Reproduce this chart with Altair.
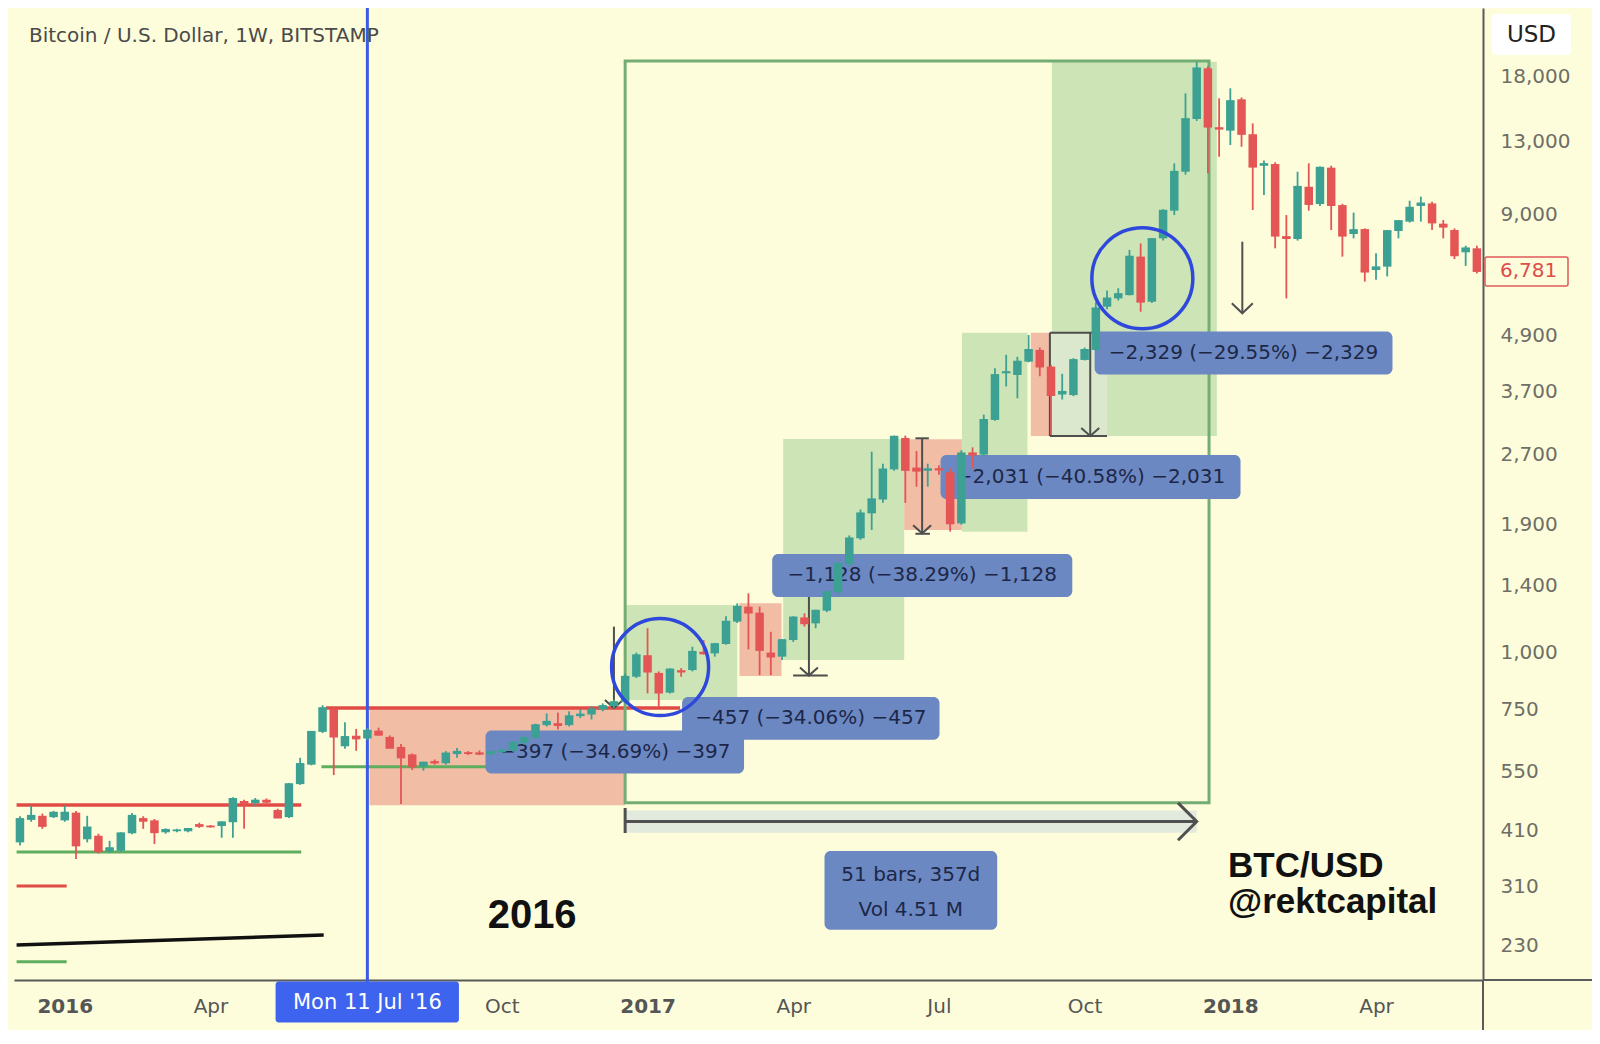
import altair as alt
import numpy as np
import pandas as pd

BG = "#FDFDDC"
GREEN = "#3CA193"
RED = "#E45555"
BLUE_BOX = "#6C88C2"
BOX_TEXT = "#1C2747"
TOOL = "#4E4E4E"

# ---------------- candle data (weekly, BITSTAMP) ----------------
week_start = pd.date_range("2015-12-07", periods=131, freq="7D")
opens = [
    386, 432, 441, 438, 431, 448, 392, 399, 369, 370,
    404, 436, 431, 406, 409, 408, 423, 419, 419, 427,
    475, 470, 478, 454, 438, 517, 570, 672, 754, 625,
    659, 650, 676, 655, 623, 600, 565, 580, 574, 601,
    605, 606, 601, 607, 612, 636, 652, 695, 702, 695,
    727, 733, 752, 765, 780, 886, 987, 903, 818, 915,
    916, 1004, 996, 1044, 1168, 1259, 1222, 1000, 980, 1065,
    1193, 1158, 1234, 1355, 1560, 1774, 2011, 2155, 2507, 2935,
    2530, 2490, 2520, 2470, 1912, 2730, 2700, 3213, 4060, 4025,
    4305, 4565, 4199, 3650, 3640, 4341, 4565, 5670, 5912, 6010,
    7290, 5813, 7990, 9180, 11160, 14540, 18750, 13950, 13715, 16050,
    13470, 11500, 11600, 8080, 7962, 10350, 9490, 11390, 9440, 8165,
    8370, 6816, 6932, 8290, 8690, 9400, 9520, 8600, 8330, 7450,
    7600]
highs = [
    440, 464, 446, 452, 464, 452, 441, 403, 389, 406,
    447, 440, 434, 414, 413, 415, 426, 421, 429, 484,
    478, 482, 481, 457, 520, 590, 675, 768, 760, 705,
    682, 685, 686, 660, 632, 603, 578, 585, 610, 620,
    610, 612, 612, 618, 642, 656, 700, 737, 740, 745,
    752, 765, 775, 790, 901, 1000, 1130, 910, 925, 925,
    1030, 1065, 1050, 1200, 1280, 1346, 1259, 1110, 1070, 1200,
    1218, 1240, 1360, 1580, 1800, 2050, 2740, 2580, 2970, 2970,
    2750, 2580, 2560, 2520, 2760, 2800, 3300, 4163, 4455, 4410,
    4920, 4620, 4230, 4050, 4380, 4620, 5800, 6150, 6220, 7540,
    7790, 8000, 9250, 11640, 16540, 19380, 18950, 16130, 16960, 16200,
    14220, 11800, 11700, 8980, 11160, 11640, 11450, 11500, 9500, 9090,
    8400, 7410, 8330, 8760, 9650, 9850, 9600, 8760, 8400, 7700,
    7700]
lows = [
    380, 428, 413, 436, 428, 355, 386, 365, 366, 368,
    402, 413, 383, 403, 406, 406, 415, 416, 395, 395,
    413, 462, 470, 436, 436, 515, 568, 668, 541, 617,
    611, 645, 660, 620, 468, 555, 553, 570, 570, 590,
    598, 598, 598, 603, 608, 630, 648, 690, 680, 690,
    720, 715, 745, 755, 775, 880, 815, 762, 815, 886,
    910, 990, 980, 1040, 1160, 1016, 893, 893, 963, 1055,
    1139, 1130, 1225, 1340, 1540, 1760, 1850, 2120, 2490, 2120,
    2298, 2300, 2440, 1835, 1900, 2520, 2680, 3200, 3800, 3581,
    4290, 4000, 2980, 3560, 3620, 4330, 4540, 5600, 5850, 6000,
    5530, 5780, 7900, 8980, 11000, 14400, 11070, 12030, 12760, 12650,
    9210, 9930, 7600, 5912, 7900, 9180, 9400, 8330, 7290, 7990,
    6430, 6490, 6600, 7990, 8650, 8690, 8330, 7990, 7200, 6960,
    6700]
closes = [
    434, 441, 419, 448, 448, 380, 416, 369, 375, 404,
    441, 430, 406, 411, 410, 413, 419, 418, 427, 480,
    470, 476, 473, 437, 517, 572, 672, 757, 656, 655,
    650, 676, 662, 620, 591, 565, 576, 576, 603, 608,
    604, 602, 607, 612, 636, 652, 695, 707, 695, 727,
    733, 752, 765, 780, 886, 987, 909, 818, 919, 909,
    1004, 996, 1044, 1168, 1259, 1222, 1013, 980, 1065, 1193,
    1158, 1234, 1355, 1560, 1774, 2011, 2158, 2507, 2954, 2500,
    2490, 2510, 2505, 1912, 2717, 2700, 3213, 4025, 4085, 4305,
    4565, 4199, 3640, 3700, 4341, 4565, 5623, 5912, 6042, 7290,
    5813, 7962, 9180, 11160, 14540, 18750, 13990, 13850, 15910, 13490,
    11445, 11600, 8097, 8000, 10350, 9490, 11390, 9440, 8097, 8330,
    6760, 6910, 8290, 8716, 9318, 9520, 8650, 8470, 7337, 7600,
    6781]

# ---------------- axis text ----------------
y_ticks = [230, 310, 410, 550, 750, 1000, 1400, 1900, 2700, 3700, 4900, 9000, 13000, 18000]
x_tick_weeks = [0, 13, 39, 52, 65, 78, 91, 104, 117]
x_tick_labels = ["2016", "Apr", "Oct", "2017", "Apr", "Jul", "Oct", "2018", "Apr"]
year_weeks = [0, 52, 104]
cursor_week = 27
cursor_label = "Mon 11 Jul '16"
last_price = 6781
last_label = "6,781"

# ---------------- drawings (week index / price) ----------------
zone_w1 = [27.2, 50.0, 60.2, 64.1, 74.9, 80.05, 86.2, 88.08]
zone_w2 = [50.0, 60.0, 63.95, 74.9, 80.05, 85.9, 88.0, 102.8]
zone_lo = [465, 788, 889, 963, 1850, 1834, 2964, 2964]
zone_hi = [757, 1270, 1281, 2919, 2916, 4976, 4976, 19380]
zone_kind = ["red", "green", "red", "green", "red", "green", "red", "green"]

level_w1 = [23.3, 22.9, -4.3, -4.3, -4.3, -4.3]
level_w2 = [54.9, 42.0, 21.1, 21.1, 0.17, 0.17]
level_p = [757, 564, 465.5, 367.8, 310, 212]
level_kind = ["red", "green", "red", "green", "red", "green"]
level_width = [3.5, 3, 3.5, 3, 3, 3]

trend_w = [-4.3, 23.1]
trend_p = [230.7, 242.5]

label_text = ["−397 (−34.69%) −397", "−457 (−34.06%) −457", "−1,128 (−38.29%) −1,128",
              "−2,031 (−40.58%) −2,031", "−2,329 (−29.55%) −2,329"]
label_w1 = [37.54, 55.08, 63.12, 78.14, 91.89]
label_w2 = [60.61, 78.05, 89.90, 104.91, 118.47]
label_lo = [545.3, 645.6, 1322, 2161, 4035]
label_hi = [676.1, 800.3, 1640, 2695, 5004]

tool_w = [49.0, 66.4, 76.5, 91.5, 87.9]
tool_top = [1139, 1322, 2930, 4976, 4976]
tool_bot = [757, 891, 1819, 2964, 2964]
tool_arrow = [True, True, True, True, False]
tick_w1 = [64.99, 75.9, 75.9, 87.9, 87.9]
tick_w2 = [68.08, 77.1, 77.2, 91.9, 93.0]
tick_p = [891, 2930, 1815, 4976, 2964]

range_w = [50.0, 101.0]
range_p = 428.5
range_band = [405, 453]
range_text = ["51 bars, 357d", "Vol 4.51 M"]

circle_w = [53.12, 96.15]
circle_p = [930, 6538]
circle_d = [97, 101]

down_w = 105.07
down_p = [7857, 5486]

# ---------------- frames ----------------
base = pd.Timestamp("2016-01-04")
cd = pd.DataFrame({"date": week_start, "open": opens, "high": highs, "low": lows, "close": closes})
cd["w"] = (cd["date"] - base).dt.days / 7.0
cd["wl"] = cd["w"] - 0.37
cd["wr"] = cd["w"] + 0.37
cd["col"] = np.where(cd["close"] >= cd["open"], GREEN, RED)

zones = pd.DataFrame({"w1": zone_w1, "w2": zone_w2, "lo": zone_lo, "hi": zone_hi,
                      "col": ["#F1BDA5" if k == "red" else "#CDE5B6" for k in zone_kind]})
levels = pd.DataFrame({"w1": level_w1, "w2": level_w2, "p": level_p, "sw": level_width,
                       "col": ["#E14B46" if k == "red" else "#5FAE5F" for k in level_kind]})
trend = pd.DataFrame({"w": trend_w, "p": trend_p})
labels = pd.DataFrame({"t": label_text, "w1": label_w1, "w2": label_w2, "lo": label_lo, "hi": label_hi})
labels["wm"] = (labels["w1"] + labels["w2"]) / 2
labels["pm"] = np.sqrt(labels["lo"] * labels["hi"])
tools = pd.DataFrame({"w": tool_w, "top": tool_top, "bot": tool_bot, "arrow": tool_arrow})
ticks = pd.DataFrame({"w1": tick_w1, "w2": tick_w2, "p": tick_p})
circles = pd.DataFrame({"w": circle_w, "p": circle_p, "s": [d * d for d in circle_d]})

xs = alt.Scale(domain=[-4.085, 126.1], nice=False, zero=False)
ys = alt.Scale(type="log", domain=[193.5, 25375], nice=False)

label_expr = ""
for wv, lb in zip(x_tick_weeks, x_tick_labels):
    label_expr += f"datum.value == {wv} ? '{lb}' : "
label_expr += "''"
year_test = " || ".join(f"datum.value == {v}" for v in year_weeks)

x_axis = alt.Axis(values=x_tick_weeks, labelExpr=label_expr, title="", orient="bottom", grid=False,
                  ticks=False, tickSize=0, labelPadding=26, labelBaseline="middle",
                  labelFont="DejaVu Sans", labelFontSize=20, labelColor="#555555",
                  labelFontWeight={"condition": {"test": year_test, "value": "bold"}, "value": "normal"},
                  domainColor="#5A5A5A", domainWidth=2, labelFlush=False, labelOverlap=False,
                  labelAlign="center")
y_axis = alt.Axis(values=y_ticks, format=",", orient="right", title="", grid=False, ticks=False,
                  tickSize=0, labelPadding=17, labelFont="DejaVu Sans", labelFontSize=20,
                  labelColor="#6E6E66", domainColor="#5A5A5A", domainWidth=2, labelAlign="left",
                  labelBaseline="middle", labelOverlap=False, labelFlush=False)


def X(f):
    return alt.X(f, type="quantitative", scale=xs, axis=x_axis)


def Y(f):
    return alt.Y(f, type="quantitative", scale=ys, axis=y_axis)


layers = []

# shaded zones
layers.append(alt.Chart(zones).mark_rect(clip=True).encode(
    x=X("w1"), x2="w2", y=Y("lo"), y2="hi", color=alt.Color("col:N", scale=None)))
# pale measuring area
layers.append(alt.Chart(pd.DataFrame({"w1": [87.9], "w2": [93.0], "lo": [2964], "hi": [4976]}))
              .mark_rect(color="#DCE8CD").encode(x=X("w1"), x2="w2", y=Y("lo"), y2="hi"))
# date range band
layers.append(alt.Chart(pd.DataFrame({"w1": [range_w[0]], "w2": [range_w[1]],
                                      "lo": [range_band[0]], "hi": [range_band[1]]}))
              .mark_rect(color="#E2E9DD").encode(x=X("w1"), x2="w2", y=Y("lo"), y2="hi"))
# level lines
layers.append(alt.Chart(levels).mark_rule(clip=True).encode(
    x=X("w1"), x2="w2", y=Y("p"), color=alt.Color("col:N", scale=None),
    strokeWidth=alt.StrokeWidth("sw:Q", scale=None)))
layers.append(alt.Chart(trend).mark_line(color="#111111", strokeWidth=3.5, clip=True).encode(
    x=X("w"), y=Y("p")))
# blue cursor line
layers.append(alt.Chart(pd.DataFrame({"w": [cursor_week]})).mark_rule(color="#3B5BE5", strokeWidth=3).encode(
    x=X("w"), y=alt.value(0), y2=alt.value(974)))
# big outline
layers.append(alt.Chart(pd.DataFrame({"w1": [50.0], "w2": [102.1], "lo": [471], "hi": [19450]}))
              .mark_rect(fillOpacity=0, stroke="#74AD74", strokeWidth=3)
              .encode(x=X("w1"), x2="w2", y=Y("lo"), y2="hi"))
# measuring tools
layers.append(alt.Chart(tools).mark_rule(color=TOOL, strokeWidth=2).encode(
    x=X("w"), y=Y("top"), y2="bot"))
layers.append(alt.Chart(ticks).mark_rule(color=TOOL, strokeWidth=2).encode(
    x=X("w1"), x2="w2", y=Y("p")))
layers.append(alt.Chart(tools[tools["arrow"]]).mark_point(
    shape="M-1,-0.9L0,0L1,-0.9", size=324, filled=False, strokeWidth=2, color=TOOL, opacity=1).encode(
    x=X("w"), y=Y("bot")))
# date range arrow
layers.append(alt.Chart(pd.DataFrame({"w1": [range_w[0]], "w2": [range_w[1]], "p": [range_p]}))
              .mark_rule(color="#505050", strokeWidth=3).encode(x=X("w1"), x2="w2", y=Y("p")))
layers.append(alt.Chart(pd.DataFrame({"w": [range_w[0]], "lo": [404.5], "hi": [458.6]}))
              .mark_rule(color="#505050", strokeWidth=3).encode(x=X("w"), y=Y("lo"), y2="hi"))
layers.append(alt.Chart(pd.DataFrame({"w": [range_w[1]], "p": [range_p]})).mark_point(
    shape="M-1,-1L0,0L-1,1", size=1400, filled=False, strokeWidth=3, color="#505050", opacity=1).encode(
    x=X("w"), y=Y("p")))
# blue label boxes
layers.append(alt.Chart(labels).mark_rect(color=BLUE_BOX, cornerRadius=6).encode(
    x=X("w1"), x2="w2", y=Y("lo"), y2="hi"))
layers.append(alt.Chart(labels).mark_text(font="DejaVu Sans", fontSize=20, color=BOX_TEXT,
                                          align="center", baseline="middle").encode(
    x=X("wm"), y=Y("pm"), text="t:N"))
layers.append(alt.Chart(pd.DataFrame({"w1": [67.79], "w2": [83.2], "lo": [249.1], "hi": [369.6]}))
              .mark_rect(color=BLUE_BOX, cornerRadius=6).encode(x=X("w1"), x2="w2", y=Y("lo"), y2="hi"))
layers.append(alt.Chart(pd.DataFrame({"t": range_text, "w": [75.49, 75.49], "p": [327.6, 274.9]}))
              .mark_text(font="DejaVu Sans", fontSize=20, color=BOX_TEXT, align="center", baseline="middle")
              .encode(x=X("w"), y=Y("p"), text="t:N"))
# candles
layers.append(alt.Chart(cd).mark_rule(strokeWidth=1.8, clip=True).encode(
    x=X("w"), y=Y("low"), y2="high", color=alt.Color("col:N", scale=None)))
layers.append(alt.Chart(cd).mark_bar(size=8.5, clip=True).encode(
    x=X("w"), y=Y("open"), y2="close", color=alt.Color("col:N", scale=None)))
layers.append(alt.Chart(cd).mark_rule(strokeWidth=1.8, clip=True).encode(
    x=X("wl"), x2="wr", y=Y("close"), color=alt.Color("col:N", scale=None)))
# circles
layers.append(alt.Chart(circles).mark_point(shape="circle", filled=False, strokeWidth=3.5,
                                            color="#2F48DC", opacity=1).encode(
    x=X("w"), y=Y("p"), size=alt.Size("s:Q", scale=None)))
# down arrow
layers.append(alt.Chart(pd.DataFrame({"w": [down_w], "top": [down_p[0]], "bot": [down_p[1]]}))
              .mark_rule(color="#505050", strokeWidth=2).encode(x=X("w"), y=Y("top"), y2="bot"))
layers.append(alt.Chart(pd.DataFrame({"w": [down_w], "p": [down_p[1]]})).mark_point(
    shape="M-1,-0.95L0,0L1,-0.95", size=441, filled=False, strokeWidth=2, color="#505050", opacity=1).encode(
    x=X("w"), y=Y("p")))
# texts
layers.append(alt.Chart(pd.DataFrame({"t": ["Bitcoin / U.S. Dollar, 1W, BITSTAMP"], "w": [-3.2], "p": [22080]}))
              .mark_text(font="DejaVu Sans", fontSize=20, color="#4A4A4A", align="left", baseline="middle")
              .encode(x=X("w"), y=Y("p"), text="t:N"))
layers.append(alt.Chart(pd.DataFrame({"t": ["2016"], "w": [41.7], "p": [266.3]}))
              .mark_text(font="Liberation Sans", fontWeight="bold", fontSize=40, color="#111111",
                         align="center", baseline="middle")
              .encode(x=X("w"), y=Y("p"), text="t:N"))
layers.append(alt.Chart(pd.DataFrame({"t": ["BTC/USD", "@rektcapital"], "w": [103.8, 103.8], "p": [342.8, 286.2]}))
              .mark_text(font="Liberation Sans", fontWeight="bold", fontSize=35, color="#111111",
                         align="left", baseline="middle")
              .encode(x=X("w"), y=Y("p"), text="t:N"))
# axis chrome
layers.append(alt.Chart(pd.DataFrame({"w1": [18.81], "w2": [35.17]})).mark_rect(color="#3D63EF", cornerRadius=3)
              .encode(x=X("w1"), x2="w2", y=alt.value(973.6), y2=alt.value(1014.4)))
layers.append(alt.Chart(pd.DataFrame({"t": [cursor_label], "w": [cursor_week]}))
              .mark_text(font="DejaVu Sans", fontSize=21, color="#FFFFFF", align="center", baseline="middle")
              .encode(x=X("w"), y=alt.value(995), text="t:N"))
layers.append(alt.Chart(pd.DataFrame({"a": [1]})).mark_rect(color="#FFFFFF", cornerRadius=4)
              .encode(x=alt.value(1478), x2=alt.value(1557), y=alt.value(6), y2=alt.value(47)))
layers.append(alt.Chart(pd.DataFrame({"t": ["USD"]})).mark_text(font="DejaVu Sans", fontSize=23, color="#222222",
                                                               align="center", baseline="middle")
              .encode(x=alt.value(1517.5), y=alt.value(27), text="t:N"))
layers.append(alt.Chart(pd.DataFrame({"lo": [6291], "hi": [7275]})).mark_rect(
    fill=BG, stroke="#E05A5A", strokeWidth=1.5, cornerRadius=2)
    .encode(x=alt.value(1471), x2=alt.value(1554), y=Y("lo"), y2="hi"))
layers.append(alt.Chart(pd.DataFrame({"t": [last_label], "p": [last_price]})).mark_text(
    font="DejaVu Sans", fontSize=20, color="#E04B4B", align="left", baseline="middle")
    .encode(x=alt.value(1486), y=Y("p"), text="t:N"))
layers.append(alt.Chart(pd.DataFrame({"a": [1]})).mark_rule(color="#5A5A5A", strokeWidth=2)
              .encode(x=alt.value(1469), y=alt.value(972), y2=alt.value(1022)))
layers.append(alt.Chart(pd.DataFrame({"a": [1]})).mark_rule(color="#5A5A5A", strokeWidth=2)
              .encode(x=alt.value(1469), x2=alt.value(1578), y=alt.value(972)))

chart = alt.layer(*layers).properties(
    width=1469, height=972,
    autosize=alt.AutoSizeParams(type="none"),
    padding={"left": 6, "top": 0, "right": 109, "bottom": 50},
).configure(background=BG).configure_view(strokeWidth=0)

chart.save("out.html", embed_options={"renderer": "svg", "actions": False})
